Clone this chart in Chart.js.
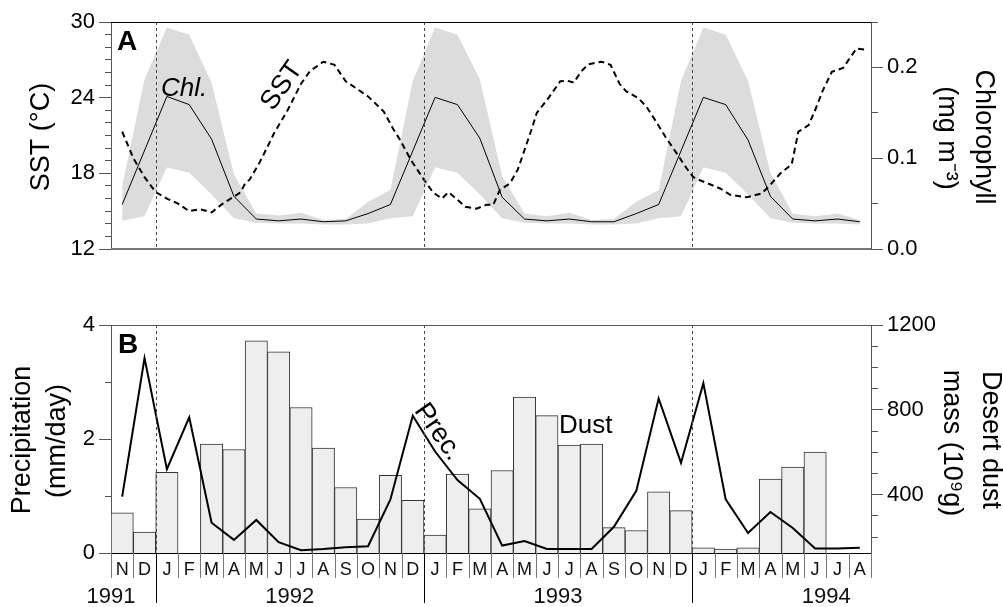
<!DOCTYPE html>
<html>
<head>
<meta charset="utf-8">
<script src="https://cdn.jsdelivr.net/npm/chart.js@4"></script>
<style>
  body { margin: 0; background: #fff; }
  #wrap { position: relative; width: 1003px; height: 607px; overflow: hidden; }
  canvas { position: absolute; left: 0; }
  #chartA { top: 0; }
  #chartB { top: 300px; }
</style>
</head>
<body>
<div id="wrap">
  <canvas id="chartA" width="1003" height="300" style="width:1003px;height:300px"></canvas>
  <canvas id="chartB" width="1003" height="307" style="width:1003px;height:307px"></canvas>
</div>
<script>
// months from Nov 1991 to Aug 1994 (index 0 = Nov 1991)
var months = ['N','D','J','F','M','A','M','J','J','A','S','O','N','D','J','F','M','A','M','J','J','A','S','O','N','D','J','F','M','A','M','J','J','A'];
var years = ['1991', '1992', '1993', '1994'];
var yearLabelAt = [-0.5, 7.5, 19.5, 31.5];
var yearBreaks = [1.5, 13.5, 25.5];

// chlorophyll (mg m-3), monthly mean and range
var chl = [0.049,null,0.168,0.159,0.121,0.058,0.033,0.031,0.033,0.030,0.031,0.039,
           0.049,null,0.167,0.159,0.122,0.057,0.033,0.031,0.033,0.030,0.030,0.039,
           0.049,null,0.167,0.159,0.120,0.058,0.033,0.031,0.033,0.030];
var chlHigh = [0.069,0.187,0.244,0.236,0.183,0.082,0.039,0.037,0.040,0.032,0.033,0.052,
               0.065,0.185,0.244,0.236,0.187,0.080,0.039,0.036,0.040,0.032,0.033,0.052,
               0.065,0.185,0.244,0.236,0.185,0.084,0.039,0.036,0.039,0.032];
var chlLow = [0.031,0.036,0.090,0.084,0.060,0.034,0.029,0.028,0.028,0.027,0.027,0.028,
              0.034,0.036,0.090,0.084,0.060,0.034,0.029,0.028,0.028,0.027,0.027,0.028,
              0.034,0.036,0.090,0.084,0.060,0.034,0.029,0.028,0.028,0.027];

// SST (deg C), semi-monthly, time in months from Nov 1991
var sstMonth = [0,0.5,1,1.5,2,2.5,3,3.5,4,4.5,5,5.3,5.5,5.7,6.1,6.5,6.8,7.4,8,8.4,
  9,9.5,10,10.5,11,11.7,12.1,12.45,12.9,13.5,13.9,14.3,14.6,15,15.35,15.85,16.3,16.6,16.9,17.35,
  17.7,18,18.3,18.55,19,19.6,19.9,20.2,20.55,20.85,21.45,21.85,22.25,22.55,23.1,23.45,23.85,24.3,24.8,25.25,
  25.55,25.85,26.75,27.2,27.95,28.6,28.9,29.45,29.95,30.25,30.7,31,31.35,31.75,32.25,32.85,33.25];
var sstTemp = [21.3,19.2,17.7,16.5,16.0,15.6,15.0,15.15,14.9,15.6,16.15,16.5,17.2,17.5,18.7,20.1,21.2,23.0,25.1,26.1,
  26.85,26.6,25.3,24.7,24.1,22.9,21.6,20.6,19.1,17.5,16.5,16.0,16.5,15.9,15.35,15.2,15.5,15.5,16.7,17.2,
  18.3,19.85,21.4,22.8,23.8,25.3,25.35,25.2,26.1,26.65,26.85,26.6,25.1,24.5,23.95,23.3,22.2,20.9,19.6,18.4,
  17.7,17.45,16.8,16.3,16.1,16.4,16.9,18.0,18.7,21.3,21.8,23.0,24.6,26.05,26.35,27.9,27.8];

// precipitation (mm/day) and desert dust mass (10^9 g)
var precip = [0.99,3.42,1.47,2.38,0.53,0.23,0.58,0.19,0.05,0.07,0.10,0.12,
              0.94,2.41,1.78,1.28,0.95,0.13,0.21,0.07,0.07,0.07,0.46,1.09,
              2.71,1.58,2.98,0.94,0.35,0.72,0.44,0.08,0.08,0.09];
var dust = [314,224,505,null,638,613,1125,1074,811,620,434,285,
            491,373,210,497,333,514,860,773,634,638,245,231,
            414,325,149,144,149,474,530,601,null,null];
var dustTicks = [200,300,400,500,600,700,800,900,1000,1100,1200];

var FONT = "'Liberation Sans', Arial, sans-serif";
Chart.defaults.font.family = FONT;
Chart.defaults.color = '#000';

function byMonth(arr) {
  return arr.map(function(v, i) { return {x: i, y: v}; });
}

// axis with long labelled ticks and short minor ticks
function axisOpts(side, min, max, step, isMajor, label) {
  return {
    position: side, min: min, max: max,
    ticks: {
      stepSize: step, autoSkip: false, padding: 4, color: '#000',
      font: {size: 22},
      callback: function(v) { return isMajor(v) ? label(v) : ''; }
    },
    grid: {
      drawOnChartArea: false, drawTicks: true, tickLength: 12,
      tickColor: '#555', tickWidth: 1,
      tickBorderDash: function(ctx) {
        if (!ctx.tick || isMajor(ctx.tick.value)) return [];
        return side === 'left' ? [0, 6, 6, 100] : [6, 100];
      }
    },
    border: {display: true, color: '#555', width: 1},
    afterFit: function(s) { s.width = side === 'left' ? 111 : 132; }
  };
}

function rotText(ctx, text, x, y, angle, font) {
  ctx.save();
  ctx.translate(x, y);
  ctx.rotate(angle * Math.PI / 180);
  ctx.font = font;
  ctx.textAlign = 'center';
  ctx.textBaseline = 'middle';
  ctx.fillStyle = '#000';
  ctx.fillText(text, 0, 0);
  ctx.restore();
}

function drawYearLines(chart) {
  var ctx = chart.ctx, a = chart.chartArea, x = chart.scales.x;
  ctx.save();
  ctx.strokeStyle = '#444';
  ctx.lineWidth = 1;
  ctx.setLineDash([3, 3]);
  yearBreaks.forEach(function(b) {
    var px = Math.round(x.getPixelForValue(b)) + 0.5;
    ctx.beginPath();
    ctx.moveTo(px, a.top);
    ctx.lineTo(px, a.bottom);
    ctx.stroke();
  });
  ctx.restore();
}

// ---- panel A: SST and chlorophyll ----
var panelA = {
  id: 'panelA',
  afterDatasetsDraw: function(chart) {
    var ctx = chart.ctx, a = chart.chartArea;
    drawYearLines(chart);
    ctx.save();
    ctx.strokeStyle = '#000';
    ctx.lineWidth = 1;
    ctx.beginPath();
    ctx.moveTo(a.left, a.top + 0.5);
    ctx.lineTo(a.right, a.top + 0.5);
    ctx.stroke();
    ctx.strokeStyle = '#777';
    ctx.lineWidth = 2;
    ctx.beginPath();
    ctx.moveTo(a.left, a.bottom);
    ctx.lineTo(a.right, a.bottom);
    ctx.stroke();

    ctx.fillStyle = '#000';
    ctx.textBaseline = 'alphabetic';
    ctx.textAlign = 'left';
    ctx.font = 'bold 28px ' + FONT;
    ctx.fillText('A', 117, 50);
    ctx.font = 'italic 26px ' + FONT;
    ctx.fillText('Chl.', 161, 96);
    ctx.restore();
    rotText(ctx, 'SST', 282, 86, -55, '27px ' + FONT);

    rotText(ctx, 'SST (°C)', 42, 137, -90, '27px ' + FONT);
    rotText(ctx, 'Chlorophyll', 983, 137, 90, '27px ' + FONT);
    rotText(ctx, '(mg m⁻³)', 946, 138, 90, '27px ' + FONT);
  }
};

new Chart(document.getElementById('chartA'), {
  type: 'line',
  data: {
    datasets: [
      {label: 'Chl. high', data: byMonth(chlHigh), yAxisID: 'yChl', fill: false,
       borderColor: 'rgba(0,0,0,0)', borderWidth: 0, backgroundColor: '#dcdcdc', pointRadius: 0, order: 3},
      {label: 'Chl. low', data: byMonth(chlLow), yAxisID: 'yChl', fill: '-1',
       borderColor: 'rgba(0,0,0,0)', borderWidth: 0, backgroundColor: '#dcdcdc', pointRadius: 0, order: 2},
      {label: 'Chl.', data: byMonth(chl), yAxisID: 'yChl', spanGaps: true,
       borderColor: '#000', borderWidth: 1, pointRadius: 0, fill: false, order: 1},
      {label: 'SST', data: sstMonth.map(function(m, i) { return {x: m, y: sstTemp[i]}; }), yAxisID: 'ySST',
       borderColor: '#000', borderWidth: 2, borderDash: [6, 4], pointRadius: 0, fill: false, order: 0}
    ]
  },
  options: {
    responsive: false, animation: false, events: [],
    layout: {padding: {top: 22, bottom: 51, left: 0, right: 0}},
    elements: {line: {tension: 0}},
    plugins: {legend: {display: false}, tooltip: {enabled: false}},
    scales: {
      x: {type: 'linear', min: -0.5, max: 33.5, display: false},
      ySST: axisOpts('left', 12, 30, 1,
        function(v) { return Math.round(v - 12) % 6 === 0; },
        function(v) { return String(v); }),
      yChl: axisOpts('right', 0, 0.25, 0.05,
        function(v) { return Math.abs(v * 10 - Math.round(v * 10)) < 1e-6; },
        function(v) { return v.toFixed(1); })
    }
  },
  plugins: [panelA]
});

// ---- panel B: precipitation and dust ----
var panelB = {
  id: 'panelB',
  afterDatasetsDraw: function(chart) {
    var ctx = chart.ctx, a = chart.chartArea, x = chart.scales.x;
    drawYearLines(chart);
    ctx.save();
    ctx.strokeStyle = '#555';
    ctx.lineWidth = 1;
    ctx.beginPath();
    ctx.moveTo(a.left, a.top + 0.5);
    ctx.lineTo(a.right, a.top + 0.5);
    ctx.stroke();
    ctx.strokeStyle = '#000';
    ctx.beginPath();
    ctx.moveTo(a.left, a.bottom + 0.5);
    ctx.lineTo(a.right, a.bottom + 0.5);
    ctx.stroke();

    // month cells and year separators under the axis
    for (var b = -0.5; b <= 33.5; b += 1) {
      var px = Math.round(x.getPixelForValue(b)) + 0.5;
      var isYear = yearBreaks.indexOf(b) >= 0;
      ctx.strokeStyle = isYear ? '#000' : '#777';
      ctx.beginPath();
      ctx.moveTo(px, a.bottom);
      ctx.lineTo(px, a.bottom + (isYear ? 50 : 25));
      ctx.stroke();
    }
    ctx.fillStyle = '#111';
    ctx.textAlign = 'center';
    ctx.textBaseline = 'middle';
    ctx.font = '18px ' + FONT;
    months.forEach(function(m, i) {
      ctx.fillText(m, x.getPixelForValue(i), a.bottom + 17);
    });
    ctx.font = '22px ' + FONT;
    years.forEach(function(y, i) {
      ctx.fillText(y, x.getPixelForValue(yearLabelAt[i]), a.bottom + 44);
    });

    ctx.fillStyle = '#000';
    ctx.textAlign = 'left';
    ctx.textBaseline = 'alphabetic';
    ctx.font = 'bold 28px ' + FONT;
    ctx.fillText('B', 118, 53);
    ctx.font = '26px ' + FONT;
    ctx.fillText('Dust', 559, 133);
    ctx.restore();
    rotText(ctx, 'Prec.', 438, 132, 55, '27px ' + FONT);

    rotText(ctx, 'Precipitation', 23, 140, -90, '27px ' + FONT);
    rotText(ctx, '(mm/day)', 58, 141, -90, '27px ' + FONT);
    rotText(ctx, 'Desert dust', 990, 140, 90, '27px ' + FONT);
    rotText(ctx, 'mass (10⁹g)', 951, 143, 90, '27px ' + FONT);
  }
};

var dustAxis = axisOpts('right', 125, 1200, 100,
  function(v) { return v % 400 === 0; },
  function(v) { return String(v); });
dustAxis.afterBuildTicks = function(s) {
  s.ticks = dustTicks.map(function(v) { return {value: v}; });
};

new Chart(document.getElementById('chartB'), {
  type: 'bar',
  data: {
    labels: months,
    datasets: [
      {type: 'line', label: 'Prec.', data: precip, yAxisID: 'yPrec',
       borderColor: '#000', borderWidth: 2, pointRadius: 0, tension: 0, fill: false, order: 0},
      {label: 'Dust', data: dust, yAxisID: 'yDust',
       backgroundColor: '#eeeeee', borderColor: '#333', borderWidth: 1,
       barPercentage: 1, categoryPercentage: 1, order: 1}
    ]
  },
  options: {
    responsive: false, animation: false, events: [],
    layout: {padding: {top: 25, bottom: 54, left: 0, right: 0}},
    plugins: {legend: {display: false}, tooltip: {enabled: false}},
    scales: {
      x: {type: 'category', offset: true, display: false},
      yPrec: axisOpts('left', 0, 4, 1,
        function(v) { return v % 2 === 0; },
        function(v) { return String(v); }),
      yDust: dustAxis
    }
  },
  plugins: [panelB]
});
</script>
</body>
</html>
